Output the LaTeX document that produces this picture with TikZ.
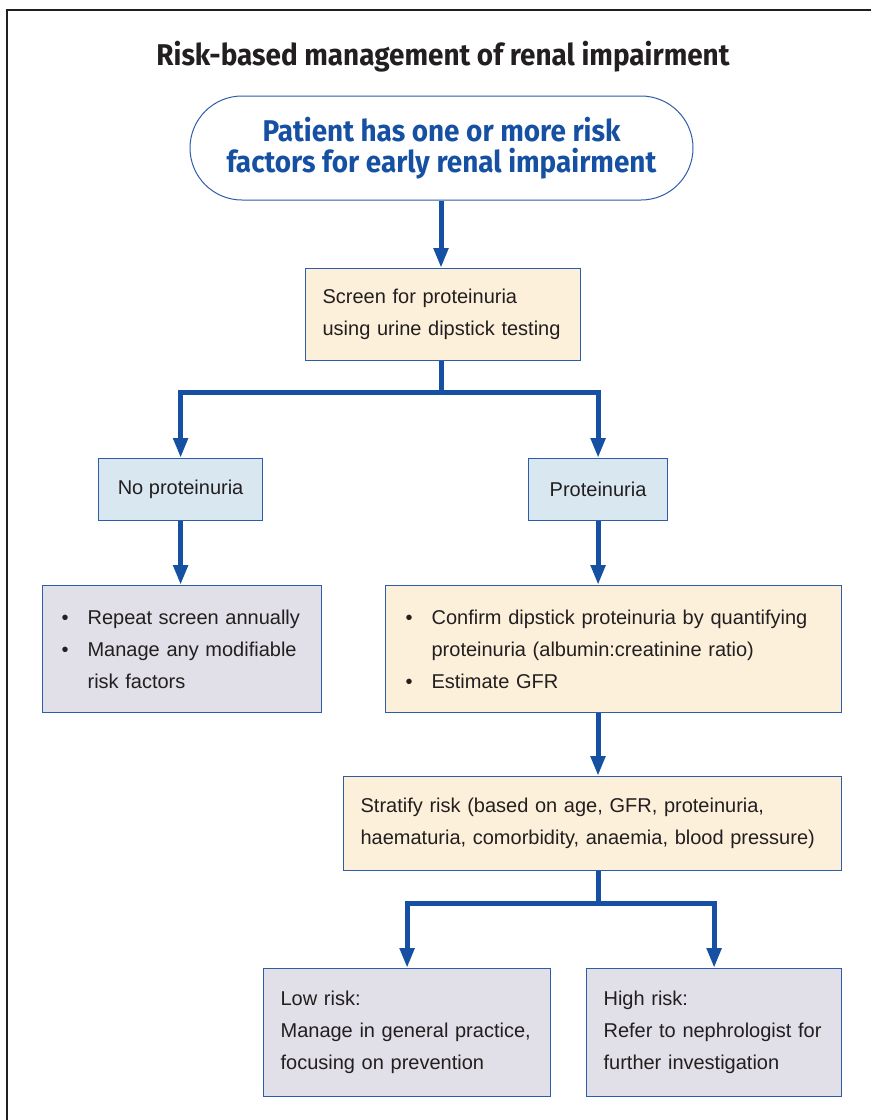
\documentclass[tikz,border=0pt]{standalone}
\usepackage{fontspec}
\setmainfont{Liberation Sans}
\newfontfamily\headfont[FakeStretch=0.93]{Fira Sans}
\usepackage{tikz}
\usetikzlibrary{arrows.meta,positioning,calc}
\definecolor{flowBlue}{RGB}{22,80,162}
\definecolor{edgeBlue}{RGB}{45,92,170}
\definecolor{creamFill}{RGB}{253,240,218}
\definecolor{skyFill}{RGB}{217,231,240}
\definecolor{lilacFill}{RGB}{225,223,231}
\definecolor{inkGrey}{RGB}{35,31,32}
\newcommand{\bul}{\makebox[26pt][l]{\textbullet}}
\newcommand{\bulgap}{\hspace*{26pt}}
\hyphenpenalty=10000

\begin{document}
\begin{tikzpicture}[x=1pt, y=-1pt,
    card/.style={draw=edgeBlue, line width=1.2pt, anchor=north west, inner xsep=17pt,
      align=left, text=inkGrey, font=\fontsize{20}{32}\selectfont},
    tag/.style={draw=edgeBlue, line width=1.2pt, anchor=north west, fill=skyFill,
      align=center, text=inkGrey, font=\fontsize{20}{32}\selectfont},
    flow/.style={draw=flowBlue, line width=5pt, -{Triangle[length=20pt,width=14pt]}},
    stem/.style={draw=flowBlue, line width=5pt}]
  \useasboundingbox (0,0) rectangle (871,1120);
  \draw[line width=1.5pt, inkGrey] (7,1120) -- (7,10) -- (871,10);

  \node[font=\headfont\bfseries\fontsize{30}{34}\selectfont, text=inkGrey] (title) at (443,57)
    {Risk-based management of renal impairment};

  \node[draw=edgeBlue, line width=1pt, rounded corners=52pt, minimum width=503pt,
    minimum height=104pt, align=center, text=flowBlue,
    font=\headfont\bfseries\fontsize{30}{31}\selectfont] (start) at (441.5,148)
    {Patient has one or more risk\\factors for early renal impairment};

  \node[card, fill=creamFill, minimum width=275pt, minimum height=92pt, text width=241pt]
    (screen) at (305,268) {Screen for proteinuria\\using urine dipstick testing};

  \node[tag, minimum width=164pt, minimum height=62pt] (noprot) at (98,458) {No proteinuria};
  \node[tag, minimum width=139pt, minimum height=62pt] (prot) at (528,458) {Proteinuria};

  \node[card, fill=lilacFill, minimum width=279pt, minimum height=127pt, inner xsep=19pt,
    text width=241pt] (annual) at (42,585)
    {\bul Repeat screen annually\\\bul Manage any modifiable\\\bulgap risk factors};

  \node[card, fill=creamFill, minimum width=456pt, minimum height=127pt, inner xsep=20pt,
    text width=416pt] (confirm) at (385,585)
    {\bul Confirm dipstick proteinuria by quantifying\\\bulgap proteinuria (albumin:creatinine ratio)\\\bul Estimate GFR};

  \node[card, fill=creamFill, minimum width=498pt, minimum height=94pt, text width=464pt]
    (stratify) at (343,776)
    {Stratify risk (based on age, GFR, proteinuria,\\haematuria, comorbidity, anaemia, blood pressure)};

  \node[card, fill=lilacFill, minimum width=287pt, minimum height=128pt, text width=253pt]
    (lowrisk) at (263,968)
    {Low risk:\\Manage in general practice,\\focusing on prevention};

  \node[card, fill=lilacFill, minimum width=255pt, minimum height=128pt, text width=221pt]
    (highrisk) at (586,968)
    {High risk:\\Refer to nephrologist for\\further investigation};

  \coordinate (split1) at (441,392);
  \coordinate (split2) at (598,903);

  \draw[flow] (start.south -| split1) -- (screen.north -| split1);
  \draw[stem] (screen.south -| split1) -- (split1);
  \draw[flow] (split1) -| (noprot.north);
  \draw[flow] (split1) -| (prot.north);
  \draw[flow] (noprot.south) -- (noprot.south |- annual.north);
  \draw[flow] (prot.south) -- (prot.south |- confirm.north);
  \draw[flow] (confirm.south -| split2) -- (stratify.north -| split2);
  \draw[stem] (stratify.south -| split2) -- (split2);
  \draw[flow] (split2) -| (lowrisk.north);
  \draw[flow] (split2) -| (highrisk.north);
\end{tikzpicture}
\end{document}
